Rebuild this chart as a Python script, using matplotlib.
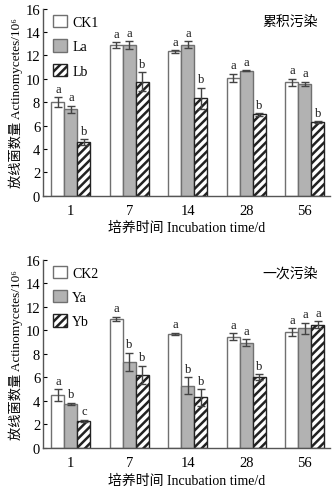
"""
Actinomycetes counts under cumulative and single pollution.
"""

import numpy as np
import matplotlib
matplotlib.use("Agg")
import matplotlib.pyplot as plt
from matplotlib.patches import Patch

plt.rcParams["font.family"] = ["Liberation Serif", "Noto Sans CJK SC",
                               "DejaVu Sans"]
plt.rcParams["hatch.linewidth"] = 1.8

days = ["1", "7", "14", "28", "56"]

# cumulative pollution (top)
ck1 = [8.0, 12.9, 12.35, 10.1, 9.7]
ck1_err = [0.45, 0.25, 0.1, 0.35, 0.3]
la = [7.4, 12.9, 12.9, 10.7, 9.55]
la_err = [0.3, 0.35, 0.3, 0.05, 0.2]
lb = [4.6, 9.75, 8.35, 6.95, 6.3]
lb_err = [0.25, 0.8, 0.9, 0.1, 0.1]
top_letters = [["a", "a", "b"], ["a", "a", "b"], ["a", "a", "b"],
               ["a", "a", "b"], ["a", "a", "b"]]

# single pollution (bottom)
ck2 = [4.5, 10.95, 9.7, 9.45, 9.85]
ck2_err = [0.5, 0.2, 0.1, 0.3, 0.3]
ya = [3.75, 7.3, 5.3, 8.95, 10.15]
ya_err = [0.1, 0.8, 0.7, 0.3, 0.5]
yb = [2.3, 6.2, 4.3, 6.0, 10.45]
yb_err = [0.1, 0.8, 0.7, 0.25, 0.3]
bottom_letters = [["a", "b", "c"], ["a", "b", "b"], ["a", "b", "b"],
                  ["a", "a", "b"], ["a", "a", "a"]]

styles = [
    dict(facecolor="white", edgecolor="#707070", hatch=None),
    dict(facecolor="#b2b2b2", edgecolor="#707070", hatch=None),
    dict(facecolor="white", edgecolor="#222222", hatch="////"),
]


def panel(ax, series, errs, names, letters, tag):
    ind = np.arange(len(days))
    width = 0.222
    handles = []
    for k, (vals, err, st) in enumerate(zip(series, errs, styles)):
        x = ind + (k - 1) * width
        ax.bar(x, vals, width, facecolor=st["facecolor"],
               edgecolor=st["edgecolor"], hatch=st["hatch"], linewidth=1.0,
               zorder=2)
        ax.errorbar(x, vals, yerr=err, fmt="none", ecolor="#444444",
                    elinewidth=1.0, capsize=3, capthick=1.0, zorder=3)
        for i in range(len(days)):
            ax.text(x[i], vals[i] + err[i] + 0.2, letters[i][k],
                    ha="center", va="bottom", fontsize=9, color="#1a1a1a")
        handles.append(Patch(facecolor=st["facecolor"],
                             edgecolor=st["edgecolor"], hatch=st["hatch"]))

    ax.set_xlim(-0.477, 4.43)
    ax.set_ylim(0, 16)
    ax.set_yticks(range(0, 17, 2))
    ax.set_xticks(ind)
    ax.set_xticklabels(days)
    ax.tick_params(axis="y", direction="in", length=3, labelsize=10.5, pad=2)
    ax.tick_params(axis="x", length=0, labelsize=10.5, pad=6)
    for s in ["top", "right"]:
        ax.spines[s].set_visible(False)
    for s in ["left", "bottom"]:
        ax.spines[s].set_color("#555555")
        ax.spines[s].set_linewidth(1.0)
    ax.set_ylabel("放线菌数量 Actinomycetes/10\u2076", fontsize=9.5,
                  labelpad=2)
    ax.set_xlabel("培养时间 Incubation time/d", fontsize=10, labelpad=3)
    ax.legend(handles, names, loc="upper left", bbox_to_anchor=(0.0, 1.02),
              frameon=False, fontsize=10, handlelength=1.0, handleheight=1.0,
              handletextpad=0.4, labelspacing=0.75, borderaxespad=0.3)
    ax.text(0.86, 0.93, tag, transform=ax.transAxes, ha="center",
            va="center", fontsize=10)


fig = plt.figure(figsize=(3.33, 4.89), dpi=100)
ax1 = fig.add_axes([0.129, 0.598, 0.862, 0.382])
ax2 = fig.add_axes([0.129, 0.082, 0.862, 0.385])

panel(ax1, [ck1, la, lb], [ck1_err, la_err, lb_err], ["CK1", "La", "Lb"],
      top_letters, "累积污染")
panel(ax2, [ck2, ya, yb], [ck2_err, ya_err, yb_err], ["CK2", "Ya", "Yb"],
      bottom_letters, "一次污染")

fig.savefig("out.png", dpi=100)
